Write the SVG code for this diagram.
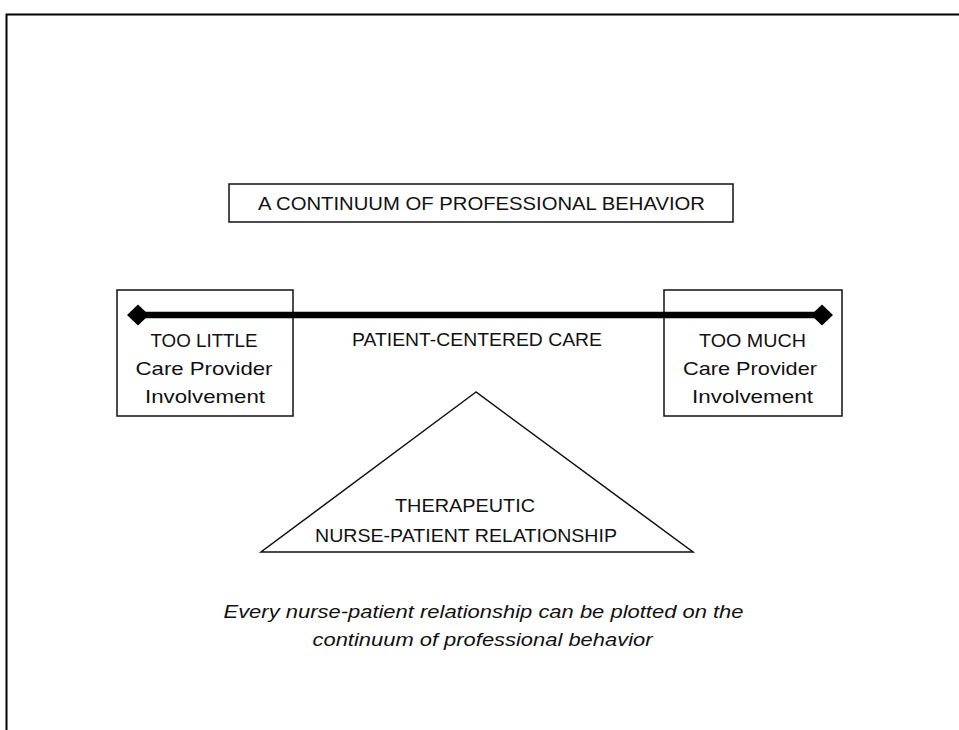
<svg xmlns="http://www.w3.org/2000/svg" width="959" height="730" viewBox="0 0 959 730">
<style>
.box{fill:#fff;stroke:#111;stroke-width:1.5}
.t{font-family:"Liberation Sans","DejaVu Sans",sans-serif;font-size:19px;fill:#111;text-anchor:middle}
.i{font-style:italic}
</style>
<rect x="0" y="0" width="959" height="730" fill="#fff"/>
<path d="M6.5,730 V14.5 H959" fill="none" stroke="#000" stroke-width="2"/>
<g id="title">
<rect class="box" x="229" y="184" width="504" height="38"/>
<text class="t" x="481.5" y="209.5" textLength="447" lengthAdjust="spacingAndGlyphs">A CONTINUUM OF PROFESSIONAL BEHAVIOR</text>
</g>
<g id="too-little">
<rect class="box" x="117" y="290" width="176" height="126"/>
<text class="t" x="204" y="347" textLength="107" lengthAdjust="spacingAndGlyphs">TOO LITTLE</text>
<text class="t" x="204" y="375" textLength="137" lengthAdjust="spacingAndGlyphs">Care Provider</text>
<text class="t" x="205" y="402.5" textLength="120" lengthAdjust="spacingAndGlyphs">Involvement</text>
</g>
<g id="too-much">
<rect class="box" x="664" y="290" width="178" height="126"/>
<text class="t" x="752.5" y="347" textLength="107" lengthAdjust="spacingAndGlyphs">TOO MUCH</text>
<text class="t" x="750" y="375" textLength="134" lengthAdjust="spacingAndGlyphs">Care Provider</text>
<text class="t" x="752.5" y="402.5" textLength="121" lengthAdjust="spacingAndGlyphs">Involvement</text>
</g>
<g id="connectors">
<line x1="138" y1="315" x2="822" y2="315" stroke="#000" stroke-width="6.5"/>
<polygon points="127,315 138,304.5 149,315 138,325.5" fill="#000"/>
<polygon points="811,315 822,304.5 833,315 822,325.5" fill="#000"/>
</g>
<g id="patient-centered">
<text class="t" x="477" y="346" textLength="250" lengthAdjust="spacingAndGlyphs">PATIENT-CENTERED CARE</text>
</g>
<g id="triangle">
<polygon points="476,392 261,552 693,552" fill="#fff" stroke="#111" stroke-width="1.5"/>
<text class="t" x="465" y="511.5" textLength="140" lengthAdjust="spacingAndGlyphs">THERAPEUTIC</text>
<text class="t" x="466" y="541.5" textLength="302" lengthAdjust="spacingAndGlyphs">NURSE-PATIENT RELATIONSHIP</text>
</g>
<g id="caption">
<text class="t i" x="483.5" y="617.5" textLength="520" lengthAdjust="spacingAndGlyphs">Every nurse-patient relationship can be plotted on the</text>
<text class="t i" x="482.5" y="645.5" textLength="340" lengthAdjust="spacingAndGlyphs">continuum of professional behavior</text>
</g>
</svg>
